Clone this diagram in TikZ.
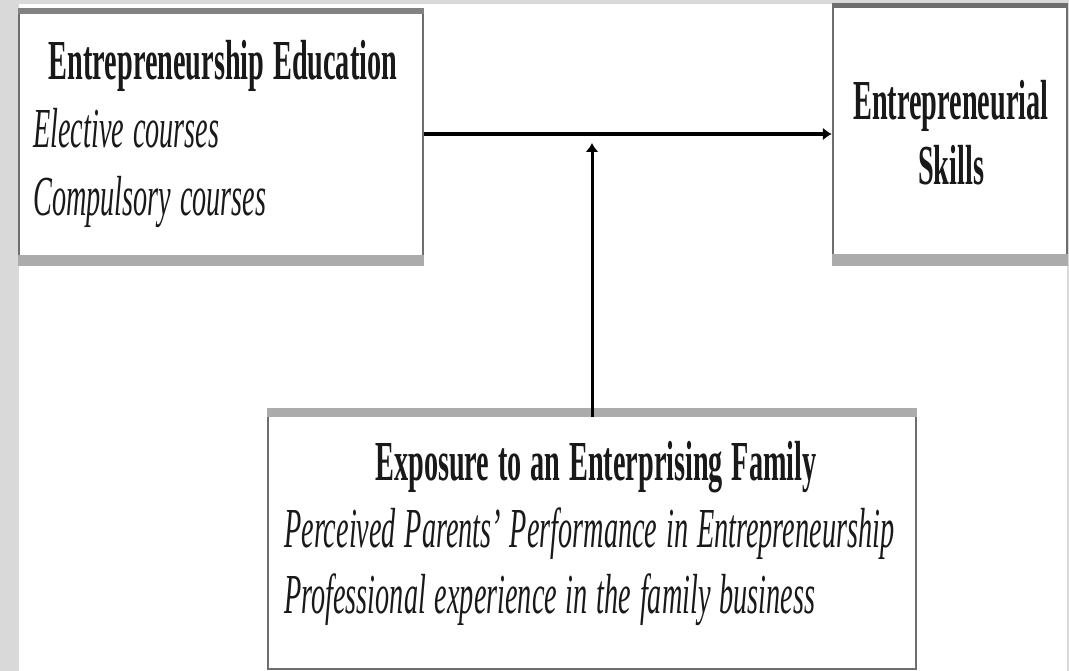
\documentclass[tikz,border=0pt]{standalone}
\usepackage{fontspec}
\setmainfont{Liberation Serif}[FakeStretch=0.5, WordSpace=1.25]
\usepackage{tikz}
\usetikzlibrary{arrows.meta}

\definecolor{bggray}{HTML}{D9D9D9}
\definecolor{sidegray}{HTML}{6E6E6E}
\definecolor{topgray}{HTML}{828282}
\definecolor{lowgray}{HTML}{ABABAB}

\begin{document}
\begin{tikzpicture}[x=1pt, y=-1pt,
  box/.style={draw=sidegray, line width=2.5pt, fill=white, inner sep=0pt},
  txt/.style={inner sep=0pt, text=black!90, font=\fontsize{56.5pt}{68pt}\selectfont},
  link/.style={line width=4.5pt, -{Latex[length=9pt,width=13pt]}}]
  \useasboundingbox (0,0) rectangle (1069,671);
  \fill[bggray] (0,0) rectangle (1069,671);
  \fill[white] (19,4) rectangle (1067,671);

  % boxes
  \node[box, minimum width=404pt, minimum height=256pt] (edu) at (221,137) {};
  \node[box, minimum width=234pt, minimum height=261pt] (skills) at (950,134.5) {};
  \node[box, minimum width=648pt, minimum height=260pt] (family) at (592,539) {};

  % shaded top and bottom edges
  \fill[topgray] (edu.north west) rectangle ([yshift=-6pt]edu.north east);
  \fill[lowgray] ([yshift=11pt]edu.south west) rectangle (edu.south east);
  \fill[sidegray] (skills.north west) rectangle ([yshift=-5pt]skills.north east);
  \fill[lowgray] ([yshift=12pt]skills.south west) rectangle (skills.south east);
  \fill[lowgray] (family.north west) rectangle ([yshift=-9pt]family.north east);
  \fill[sidegray] ([yshift=2pt]family.south west) rectangle (family.south east);

  % texts
  \node[txt, anchor=base] (eduhead) at (223,80) {\textbf{Entrepreneurship Education}};
  \node[txt, anchor=base west] (elective) at (33,148) {\textit{Elective courses}};
  \node[txt, anchor=base west] (compulsory) at (33,216) {\textit{Compulsory courses}};

  \node[txt, anchor=base] (skillsa) at (951,120) {\textbf{Entrepreneurial}};
  \node[txt, anchor=base] (skillsb) at (951,185) {\textbf{Skills}};

  \node[txt, anchor=base] (famhead) at (596,480) {\textbf{Exposure to an Enterprising Family}};
  \node[txt, anchor=base west] (parents) at (284,547) {\textit{Perceived Parents' Performance in Entrepreneurship}};
  \node[txt, anchor=base west] (business) at (284,613) {\textit{Professional experience in the family business}};

  % connectors
  \coordinate (meet) at (592,143);
  \draw[link] ([yshift=3pt]edu.east) -- ([yshift=3pt]edu.east -| skills.west);
  \draw[link, line width=3pt] ([yshift=-9pt]family.north) -- (meet);
\end{tikzpicture}
\end{document}
